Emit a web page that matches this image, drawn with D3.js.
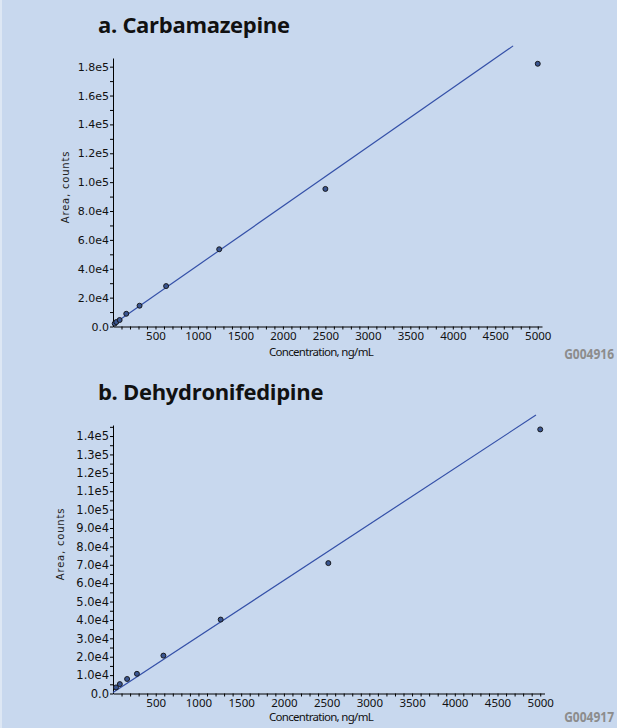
<!DOCTYPE html>
<html>
<head>
<meta charset="utf-8">
<script src="https://cdn.jsdelivr.net/npm/d3@7"></script>
<style>
  body { margin: 0; background: #c8d8ee; }
  svg { display: block; }
</style>
</head>
<body>
<div id="chart"></div>
<script>
// panel a: carbamazepine
var concA = [20, 39, 78, 156, 312.5, 625, 1250, 2500, 5000];
var areaA = [2000, 3100, 4500, 8800, 14400, 28000, 53500, 95300, 182000];
var fitAX = [0, 4710];
var fitAY = [1400, 194400];

// panel b: dehydronifedipine
var concB = [35, 80, 165, 280, 590, 1260, 2520, 5000];
var areaB = [3300, 5100, 7900, 10700, 20600, 40200, 70900, 143600];
var fitBX = [0, 4950];
var fitBY = [550, 151400];

var xTicks = d3.range(100, 5001, 100);
var yTicksA = d3.range(0, 180001, 10000);
var yTicksB = d3.range(0, 145001, 5000);

var W = 617, H = 728;

var svg = d3.select('#chart').append('svg')
    .attr('width', W)
    .attr('height', H);

svg.append('rect')
    .attr('width', W).attr('height', H)
    .attr('fill', '#c8d8ee');
svg.append('rect')
    .attr('width', 2).attr('height', H)
    .attr('fill', '#dde7f4');

function sciFmt(d){
    if(d === 0) return '0.0';
    return d3.format('.1e')(d).replace('e+', 'e');
}

function panel(opt){
    var x = d3.scaleLinear().domain([0, 5050]).range([113, opt.xRight]);
    var y = d3.scaleLinear().domain([0, opt.yMax]).range([opt.y0, opt.yTop]);

    svg.append('text')
        .attr('x', 98).attr('y', opt.titleY)
        .style('font-family', 'Open Sans')
        .style('font-weight', 'bold')
        .style('font-size', '22px')
        .style('letter-spacing', '-0.3px')
        .attr('fill', '#111')
        .text(opt.title);

    // x axis
    var xa = svg.append('g')
        .attr('transform', 'translate(0,' + opt.y0 + ')')
        .call(d3.axisBottom(x)
            .tickValues(xTicks)
            .tickSize(3)
            .tickSizeOuter(0)
            .tickPadding(2)
            .tickFormat(function(d){ return d % 500 === 0 ? d : ''; }));
    xa.selectAll('text')
        .style('font-family', 'Noto Sans')
        .style('font-size', '11.5px')
        .attr('fill', '#111');

    // y axis
    var ya = svg.append('g')
        .attr('transform', 'translate(113,0)')
        .call(d3.axisLeft(y)
            .tickValues(opt.yTicks)
            .tickSize(3)
            .tickSizeOuter(0)
            .tickPadding(1)
            .tickFormat(function(d){ return d % opt.yStep === 0 ? sciFmt(d) : ''; }));
    ya.selectAll('text')
        .style('font-family', 'DejaVu Sans')
        .style('font-size', opt.yFont)
        .attr('fill', '#111');
    svg.selectAll('.domain').attr('stroke', '#000');

    svg.append('text')
        .attr('transform', 'translate(' + opt.yLabX + ',' + opt.yLabY + ') rotate(-90)')
        .attr('text-anchor', 'middle')
        .style('font-family', 'DejaVu Sans')
        .style('font-size', '10px')
        .style('letter-spacing', '0.8px')
        .attr('fill', '#222')
        .text('Area, counts');

    svg.append('text')
        .attr('x', 321).attr('y', opt.xLabY)
        .attr('text-anchor', 'middle')
        .style('font-family', 'Noto Sans')
        .style('font-size', '11.5px')
        .style('letter-spacing', '-0.7px')
        .attr('fill', '#111')
        .text('Concentration, ng/mL');

    svg.append('text')
        .attr('transform', 'translate(614,' + opt.idY + ') scale(0.8,1)')
        .attr('text-anchor', 'end')
        .style('font-family', 'Noto Sans')
        .style('font-weight', 'bold')
        .style('font-size', '15px')
        .attr('fill', '#8c8c8c')
        .text(opt.id);

    var line = d3.line()
        .x(function(d){ return x(d[0]); })
        .y(function(d){ return y(d[1]); });

    svg.append('path')
        .datum(d3.zip(opt.fitX, opt.fitY))
        .attr('d', line)
        .attr('fill', 'none')
        .attr('stroke', '#3450a8')
        .attr('stroke-width', 1.2);

    svg.append('g').selectAll('circle')
        .data(d3.zip(opt.conc, opt.area))
        .enter().append('circle')
        .attr('cx', function(d){ return x(d[0]); })
        .attr('cy', function(d){ return y(d[1]); })
        .attr('r', 2.5)
        .attr('fill', '#3a5590')
        .attr('stroke', '#111')
        .attr('stroke-width', 0.9);
}

panel({
    title: 'a. Carbamazepine', titleY: 33,
    conc: concA, area: areaA, fitX: fitAX, fitY: fitAY,
    yMax: 186000, y0: 326.5, yTop: 58, xRight: 542,
    yTicks: yTicksA, yStep: 20000, yFont: '11px',
    yLabX: 69, yLabY: 187, xLabY: 356, id: 'G004916', idY: 359
});

panel({
    title: 'b. Dehydronifedipine', titleY: 400,
    conc: concB, area: areaB, fitX: fitBX, fitY: fitBY,
    yMax: 146000, y0: 693.5, yTop: 425, xRight: 544.5,
    yTicks: yTicksB, yStep: 10000, yFont: '11.5px',
    yLabX: 64, yLabY: 544, xLabY: 721, id: 'G004917', idY: 722
});
</script>
</body>
</html>
